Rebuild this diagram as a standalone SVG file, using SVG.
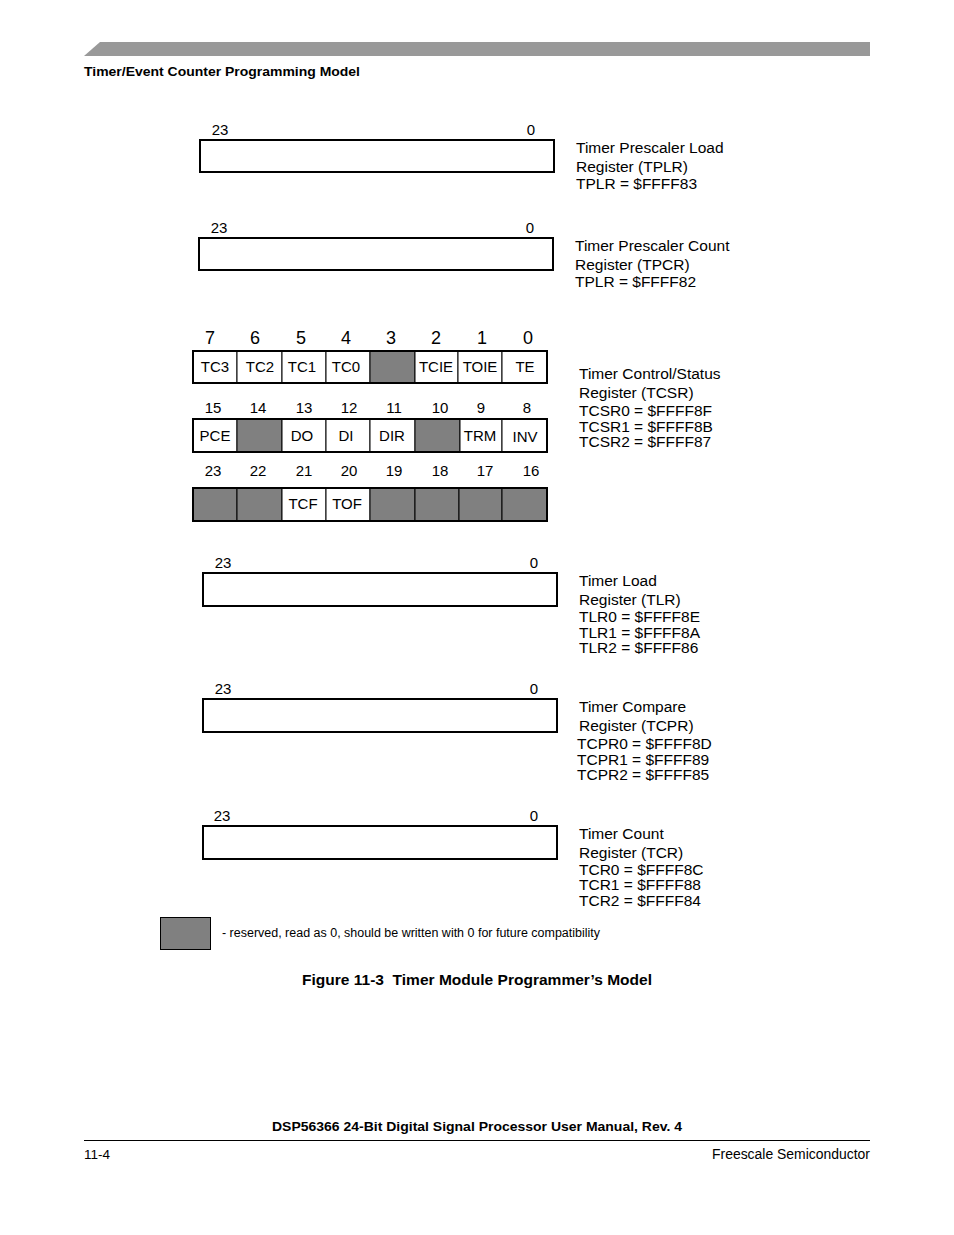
<svg xmlns="http://www.w3.org/2000/svg" width="954" height="1235" viewBox="0 0 954 1235">
<style>
text{font-family:"Liberation Sans",Arial,sans-serif;fill:#000}
.t{font-size:15.5px}
.n{font-size:15px;text-anchor:middle}
.nb{font-size:18px;text-anchor:middle}
.c{font-size:15px;text-anchor:middle}
.reg{fill:#fff;stroke:#000;stroke-width:2}
.cell{fill:#fff;stroke:#000;stroke-width:1}
.res{fill:#808080;stroke:#000;stroke-width:1}
.hb{font-weight:bold;font-size:13px}
</style>
<rect width="954" height="1235" fill="#fff"/>
<g id="header">
<polygon points="84,56 100,42 870,42 870,56" fill="#999"/>
<text x="84" y="76" class="hb" textLength="276" lengthAdjust="spacingAndGlyphs">Timer/Event Counter Programming Model</text>
</g>
<g id="tplr">
<text x="220" y="135" class="n">23</text><text x="531" y="135" class="n">0</text>
<rect x="200" y="140" width="354" height="32" class="reg"/>
<text x="576" y="153" class="t">Timer Prescaler Load</text>
<text x="576" y="172" class="t">Register (TPLR)</text>
<text x="576" y="189" class="t">TPLR = $FFFF83</text>
</g>
<g id="tpcr">
<text x="219" y="233" class="n">23</text><text x="530" y="233" class="n">0</text>
<rect x="199" y="238" width="354" height="32" class="reg"/>
<text x="575" y="251" class="t">Timer Prescaler Count</text>
<text x="575" y="270" class="t">Register (TPCR)</text>
<text x="575" y="287" class="t">TPLR = $FFFF82</text>
</g>
<g id="tcsr">
<g id="tcsr-row0">
<text x="210" y="344" class="nb">7</text><text x="255" y="344" class="nb">6</text><text x="301" y="344" class="nb">5</text><text x="346" y="344" class="nb">4</text><text x="391" y="344" class="nb">3</text><text x="436" y="344" class="nb">2</text><text x="482" y="344" class="nb">1</text><text x="528" y="344" class="nb">0</text>
<rect x="193" y="351" width="44" height="32" class="cell"/>
<rect x="237" y="351" width="45" height="32" class="cell"/>
<rect x="282" y="351" width="44" height="32" class="cell"/>
<rect x="326" y="351" width="44" height="32" class="cell"/>
<rect x="370" y="351" width="45" height="32" class="res"/>
<rect x="415" y="351" width="43" height="32" class="cell"/>
<rect x="458" y="351" width="44" height="32" class="cell"/>
<rect x="502" y="351" width="45" height="32" class="cell"/>
<rect x="193" y="351" width="354" height="32" fill="none" stroke="#000" stroke-width="2"/>
<text x="215" y="372" class="c">TC3</text><text x="260" y="372" class="c">TC2</text><text x="302" y="372" class="c">TC1</text><text x="346" y="372" class="c">TC0</text><text x="436" y="372" class="c">TCIE</text><text x="480" y="372" class="c">TOIE</text><text x="525" y="372" class="c">TE</text>
</g>
<g id="tcsr-row1">
<text x="213" y="413" class="n">15</text><text x="258" y="413" class="n">14</text><text x="304" y="413" class="n">13</text><text x="349" y="413" class="n">12</text><text x="394" y="413" class="n">11</text><text x="440" y="413" class="n">10</text><text x="481" y="413" class="n">9</text><text x="527" y="413" class="n">8</text>
<rect x="193" y="419" width="44" height="33" class="cell"/>
<rect x="237" y="419" width="45" height="33" class="res"/>
<rect x="282" y="419" width="44" height="33" class="cell"/>
<rect x="326" y="419" width="44" height="33" class="cell"/>
<rect x="370" y="419" width="45" height="33" class="cell"/>
<rect x="415" y="419" width="45" height="33" class="res"/>
<rect x="460" y="419" width="42" height="33" class="cell"/>
<rect x="502" y="419" width="45" height="33" class="cell"/>
<rect x="193" y="419" width="354" height="33" fill="none" stroke="#000" stroke-width="2"/>
<text x="215" y="441" class="c">PCE</text><text x="302" y="441" class="c">DO</text><text x="346" y="441" class="c">DI</text><text x="392" y="441" class="c">DIR</text><text x="480" y="441" class="c">TRM</text><text x="525" y="442" class="c">INV</text>
</g>
<g id="tcsr-row2">
<text x="213" y="476" class="n">23</text><text x="258" y="476" class="n">22</text><text x="304" y="476" class="n">21</text><text x="349" y="476" class="n">20</text><text x="394" y="476" class="n">19</text><text x="440" y="476" class="n">18</text><text x="485" y="476" class="n">17</text><text x="531" y="476" class="n">16</text>
<rect x="193" y="488" width="44" height="33" class="res"/>
<rect x="237" y="488" width="45" height="33" class="res"/>
<rect x="282" y="488" width="44" height="33" class="cell"/>
<rect x="326" y="488" width="44" height="33" class="cell"/>
<rect x="370" y="488" width="45" height="33" class="res"/>
<rect x="415" y="488" width="44" height="33" class="res"/>
<rect x="459" y="488" width="43" height="33" class="res"/>
<rect x="502" y="488" width="45" height="33" class="res"/>
<rect x="193" y="488" width="354" height="33" fill="none" stroke="#000" stroke-width="2"/>
<text x="303" y="509" class="c">TCF</text><text x="347" y="509" class="c">TOF</text>
</g>
<text x="579" y="379" class="t">Timer Control/Status</text>
<text x="579" y="398" class="t">Register (TCSR)</text>
<text x="579" y="416" class="t">TCSR0 = $FFFF8F</text>
<text x="579" y="432" class="t">TCSR1 = $FFFF8B</text>
<text x="579" y="447" class="t">TCSR2 = $FFFF87</text>
</g>
<g id="tlr">
<text x="223" y="568" class="n">23</text><text x="534" y="568" class="n">0</text>
<rect x="203" y="573" width="354" height="33" class="reg"/>
<text x="579" y="586" class="t">Timer Load</text>
<text x="579" y="605" class="t">Register (TLR)</text>
<text x="579" y="622" class="t">TLR0 = $FFFF8E</text>
<text x="579" y="638" class="t">TLR1 = $FFFF8A</text>
<text x="579" y="653" class="t">TLR2 = $FFFF86</text>
</g>
<g id="tcpr">
<text x="223" y="694" class="n">23</text><text x="534" y="694" class="n">0</text>
<rect x="203" y="699" width="354" height="33" class="reg"/>
<text x="579" y="712" class="t">Timer Compare</text>
<text x="579" y="731" class="t">Register (TCPR)</text>
<text x="577" y="749" class="t">TCPR0 = $FFFF8D</text>
<text x="577" y="765" class="t">TCPR1 = $FFFF89</text>
<text x="577" y="780" class="t">TCPR2 = $FFFF85</text>
</g>
<g id="tcr">
<text x="222" y="821" class="n">23</text><text x="534" y="821" class="n">0</text>
<rect x="203" y="826" width="354" height="33" class="reg"/>
<text x="579" y="839" class="t">Timer Count</text>
<text x="579" y="858" class="t">Register (TCR)</text>
<text x="579" y="875" class="t">TCR0 = $FFFF8C</text>
<text x="579" y="890" class="t">TCR1 = $FFFF88</text>
<text x="579" y="906" class="t">TCR2 = $FFFF84</text>
</g>
<g id="legend">
<rect x="160.5" y="917.5" width="50" height="32" fill="#808080" stroke="#000" stroke-width="1"/>
<text x="222" y="937" font-size="12.5" textLength="378" lengthAdjust="spacingAndGlyphs">- reserved, read as 0, should be written with 0 for future compatibility</text>
</g>
<g id="caption">
<text x="302" y="985" font-size="15" font-weight="bold" xml:space="preserve" textLength="350" lengthAdjust="spacingAndGlyphs">Figure 11-3  Timer Module Programmer’s Model</text>
</g>
<g id="footer">
<text x="477" y="1131" class="hb" text-anchor="middle" textLength="410" lengthAdjust="spacingAndGlyphs">DSP56366 24-Bit Digital Signal Processor User Manual, Rev. 4</text>
<line x1="84" y1="1140.5" x2="870" y2="1140.5" stroke="#000" stroke-width="1"/>
<text x="84" y="1159" font-size="13.5">11-4</text>
<text x="712" y="1159" font-size="14" textLength="158" lengthAdjust="spacingAndGlyphs">Freescale Semiconductor</text>
</g>
</svg>
